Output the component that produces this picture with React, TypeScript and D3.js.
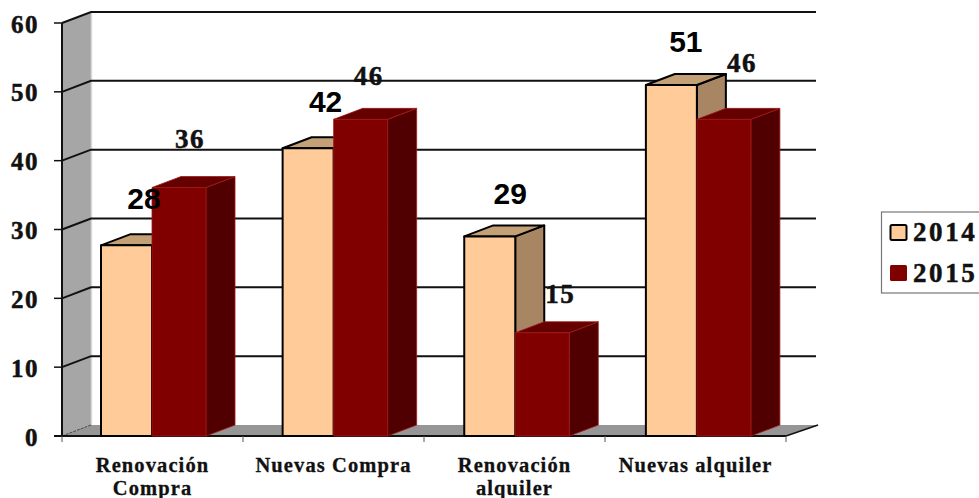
import React from "react";
import * as d3 from "d3";

const categories = [["Renovación", "Compra"], ["Nuevas Compra"], ["Renovación", "alquiler"], ["Nuevas alquiler"]];
const values2014 = [27.7, 41.8, 29, 51];
const values2015 = [36.1, 46, 15, 46];
const labels2014 = [28, 42, 29, 51];
const labels2015 = [36, 46, 15, 46];
const yTicks = [0, 10, 20, 30, 40, 50, 60];

const W = 979, H = 498;
const DX = 29, DY = -11;
const SERIF = "'Liberation Serif', serif";
const y = d3.scaleLinear().domain([0, 60]).range([436, 23]);
const x = d3.scaleBand<number>().domain(d3.range(4)).range([62, 788.5]);
const xTick = d3.scaleLinear().domain([0, 4]).range([62, 786]);

// layout nudges of the data labels: [dx, dy] from the front-top of the bar
const nudge2014 = [[43, -36], [43, -36], [46, -32], [40, -33]];
const nudge2015 = [[38, -40], [35, -34], [45, -30], [45, -47]];

const pts = (a: number[][]) => a.map(p => p.join(",")).join(" ");

function Bar({ x0, w, v, colors, stroke, sw }: { x0: number; w: number; v: number; colors: string[]; stroke: string; sw: number }) {
  const top = y(v), base = y(0), x1 = x0 + w;
  return (
    <g stroke={stroke} strokeWidth={sw} strokeLinejoin="round">
      <polygon points={pts([[x1, base], [x1 + DX, base + DY], [x1 + DX, top + DY], [x1, top]])} fill={colors[2]} />
      <polygon points={pts([[x0, top], [x0 + DX, top + DY], [x1 + DX, top + DY], [x1, top]])} fill={colors[1]} />
      <rect x={x0} y={top} width={w} height={base - top} fill={colors[0]} />
    </g>
  );
}

export default function App() {
  const c14 = ["#FFCC99", "#C4A077", "#A88563"];
  const c15 = ["#800000", "#640000", "#500000"];
  const right = 786;
  const heavy = { stroke: "#111", strokeWidth: 0.5 };
  return (
    <svg width={W} height={H} style={{ position: "absolute", left: 0, top: 0 }} fontFamily={SERIF} fontWeight="bold">
      <rect width={W} height={H} fill="#fff" />
      <polygon points={pts([[62, y(60)], [62 + DX, y(60) + DY], [62 + DX, y(0) + DY], [62, y(0)]])} fill="#A6A6A6" />
      <polygon points={pts([[62, y(0)], [62 + DX, y(0) + DY], [right + DX + 3, y(0) + DY], [right, y(0)]])} fill="#969696" />
      <line x1={62 + DX + 0.5} x2={62 + DX + 0.5} y1={y(60) + DY} y2={y(0) + DY} stroke="#d9d9d9" strokeWidth={1.5} />
      {yTicks.filter(t => t > 0).map(t => (
        <polyline key={t} points={pts([[62, y(t)], [62 + DX, y(t) + DY], [right + DX + 1, y(t) + DY]])} fill="none" stroke="#111" strokeWidth={2} />
      ))}
      <line x1={62} y1={y(0)} x2={62 + DX} y2={y(0) + DY} stroke="#444" strokeWidth={1} strokeDasharray="3 1" />
      <line x1={62} x2={62} y1={y(60)} y2={y(0)} stroke="#111" strokeWidth={2} />
      <line x1={54} x2={right} y1={y(0)} y2={y(0)} stroke="#111" strokeWidth={2} />
      <line x1={right} y1={y(0)} x2={right + DX + 3} y2={y(0) + DY} stroke="#111" strokeWidth={1.5} />
      {yTicks.map(t => <line key={t} x1={54} x2={62} y1={y(t)} y2={y(t)} stroke="#111" strokeWidth={1.5} />)}
      {d3.range(5).map(i => (
        <line key={i} x1={xTick(i)} x2={xTick(i)} y1={y(0)} y2={y(0) + 6} stroke="#555" strokeWidth={1} />
      ))}
      {yTicks.map(t => (
        <text key={t} x={39} y={y(t) + 9.5} textAnchor="end" fontSize={25} fill="#111" letterSpacing={1.5} {...heavy}>{t}</text>
      ))}
      {categories.map((_, i) => {
        const b = x(i)! + 39;
        return (
          <g key={i}>
            <Bar x0={b} w={51} v={values2014[i]} colors={c14} stroke="#000" sw={2} />
            <Bar x0={b + 51} w={54} v={values2015[i]} colors={c15} stroke="#A01818" sw={0.8} />
          </g>
        );
      })}
      {categories.map((_, i) => {
        const b = x(i)! + 39;
        return (
          <g key={i}>
            <text x={b + nudge2014[i][0]} y={y(values2014[i]) + nudge2014[i][1]} textAnchor="middle" fontSize={30} fontFamily="'Liberation Sans', sans-serif" fill="#000">{labels2014[i]}</text>
            <text x={b + 51 + nudge2015[i][0]} y={y(values2015[i]) + nudge2015[i][1]} textAnchor="middle" fontSize={27} fill="#111" letterSpacing={1.5} {...heavy}>{labels2015[i]}</text>
          </g>
        );
      })}
      {categories.map((lines, i) => (
        <text key={i} textAnchor="middle" fontSize={20.5} fill="#111" letterSpacing={1.1} stroke="#111" strokeWidth={0.3}>
          {lines.map((l, j) => <tspan key={j} x={xTick(i) + 90.5} y={472 + j * 23}>{l}</tspan>)}
        </text>
      ))}
      <rect x={881.5} y={212} width={110} height={81} fill="#fff" stroke="#777" strokeWidth={1.2} />
      <rect x={890.5} y={225} width={16} height={15} rx={1.5} fill="#FFCC99" stroke="#000" strokeWidth={2} />
      <rect x={890} y={265} width={17} height={16} rx={1.5} fill="#800000" />
      <text x={913} y={241} fontSize={27} fill="#111" letterSpacing={2.6} {...heavy}>2014</text>
      <text x={913} y={282} fontSize={27} fill="#111" letterSpacing={2.6} {...heavy}>2015</text>
    </svg>
  );
}
